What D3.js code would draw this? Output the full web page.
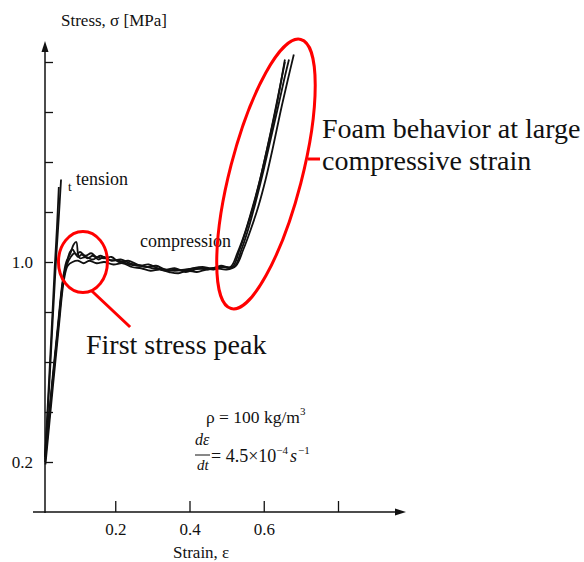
<!DOCTYPE html>
<html>
<head>
<meta charset="utf-8">
<script src="https://cdn.jsdelivr.net/npm/d3@7"></script>
<style>
  body { margin: 0; background: #fff; }
  text { font-family: "Liberation Serif", "Times New Roman", "DejaVu Serif", serif; fill: #111; }
</style>
</head>
<body>
<script>
// ticks
var yTicks = [0.2, 0.4, 0.6, 0.8, 1.0, 1.2, 1.4, 1.6, 1.8];
var yLabeled = [0.2, 1.0];
var xTicks = [0.2, 0.4, 0.6, 0.8];
var xLabeled = [0.2, 0.4, 0.6];

// tension curves [strain, stress]
var tension1 = [[0.011, 0.22], [0.022, 0.5], [0.032, 0.78], [0.041, 1.02], [0.048, 1.18], [0.054, 1.33]];
var tension2 = [[0.011, 0.22], [0.02, 0.48], [0.029, 0.74], [0.037, 0.98], [0.043, 1.14], [0.048, 1.30]];

// compression curves
var compA = [[0.011, 0.22], [0.03, 0.52], [0.045, 0.74], [0.058, 0.92], [0.068, 1.0], [0.078, 1.03],
  [0.088, 1.07], [0.095, 1.08], [0.1, 1.03], [0.105, 1.015], [0.12, 1.02], [0.14, 1.01], [0.16, 1.025],
  [0.18, 1.01], [0.21, 1.005], [0.24, 0.99], [0.27, 0.985], [0.3, 0.975], [0.33, 0.97], [0.36, 0.965],
  [0.39, 0.97], [0.42, 0.975], [0.45, 0.97], [0.48, 0.98], [0.515, 0.98], [0.535, 1.05], [0.555, 1.14],
  [0.575, 1.24], [0.595, 1.36], [0.615, 1.49], [0.635, 1.63], [0.657, 1.81]];
var compB = [[0.011, 0.2], [0.03, 0.5], [0.046, 0.74], [0.06, 0.93], [0.07, 0.99], [0.08, 1.02],
  [0.09, 1.035], [0.1, 1.02], [0.11, 1.03], [0.125, 1.015], [0.14, 1.025], [0.155, 1.01], [0.17, 1.02],
  [0.19, 1.005], [0.215, 1.01], [0.24, 0.995], [0.265, 0.985], [0.29, 0.99], [0.315, 0.975], [0.34, 0.965],
  [0.365, 0.97], [0.39, 0.96], [0.415, 0.97], [0.44, 0.975], [0.465, 0.97], [0.49, 0.98], [0.52, 0.98],
  [0.54, 1.05], [0.56, 1.14], [0.58, 1.25], [0.6, 1.37], [0.62, 1.5], [0.64, 1.63], [0.655, 1.73], [0.668, 1.81]];
var compC = [[0.012, 0.19], [0.032, 0.5], [0.048, 0.74], [0.062, 0.93], [0.072, 0.985], [0.085, 1.0],
  [0.1, 1.005], [0.115, 0.995], [0.13, 1.005], [0.15, 0.995], [0.17, 1.0], [0.195, 0.99], [0.22, 0.995],
  [0.245, 0.98], [0.27, 0.975], [0.295, 0.965], [0.32, 0.97], [0.345, 0.96], [0.37, 0.955], [0.395, 0.965],
  [0.42, 0.96], [0.445, 0.97], [0.47, 0.975], [0.5, 0.97], [0.525, 0.985], [0.545, 1.05], [0.565, 1.13],
  [0.585, 1.22], [0.605, 1.33], [0.625, 1.46], [0.645, 1.6], [0.665, 1.73], [0.681, 1.83]];
var compD = [[0.011, 0.21], [0.031, 0.52], [0.047, 0.75], [0.061, 0.94], [0.07, 1.0], [0.078, 1.04],
  [0.085, 1.05], [0.095, 1.03], [0.105, 1.04], [0.12, 1.025], [0.135, 1.035], [0.15, 1.02], [0.17, 1.015],
  [0.19, 1.02], [0.21, 1.0], [0.235, 1.005], [0.26, 0.99], [0.285, 0.98], [0.31, 0.985], [0.335, 0.97],
  [0.36, 0.975], [0.385, 0.965], [0.41, 0.975], [0.435, 0.98], [0.46, 0.975], [0.485, 0.985], [0.51, 0.98],
  [0.53, 1.04], [0.55, 1.12], [0.57, 1.22], [0.59, 1.33], [0.61, 1.46], [0.63, 1.6], [0.645, 1.71], [0.657, 1.8]];

var w = 584;
var h = 562;

var svg = d3.select("body")
  .append("svg")
  .attr("width", w)
  .attr("height", h);

var x = d3.scaleLinear().domain([0, 0.8]).range([41, 338]);
var y = d3.scaleLinear().domain([0, 1.8]).range([512, 62]);

// axes (ticks only, domain drawn by hand with arrows)
var yAxis = d3.axisLeft(y)
  .tickValues(yTicks)
  .tickSizeInner(-8)
  .tickSizeOuter(0)
  .tickPadding(12)
  .tickFormat((d) => yLabeled.indexOf(d) >= 0 ? d3.format(".1f")(d) : "");

var xAxis = d3.axisBottom(x)
  .tickValues(xTicks)
  .tickSizeInner(-11)
  .tickSizeOuter(0)
  .tickPadding(11)
  .tickFormat((d) => xLabeled.indexOf(d) >= 0 ? d3.format(".1f")(d) : "");

var gy = svg.append("g")
  .attr("transform", "translate(45,0)")
  .call(yAxis);
var gx = svg.append("g")
  .attr("transform", "translate(0," + y(0) + ")")
  .call(xAxis);

[gx, gy].forEach((g) => {
  g.attr("font-family", null);
  g.select(".domain").remove();
  g.selectAll("line").attr("stroke", "#111").attr("stroke-width", 1.3);
  g.selectAll("text")
    .attr("font-size", "17px")
    .attr("fill", "#111");
});

// axis lines with arrows
svg.append("line")
  .attr("x1", 45).attr("y1", y(0) + 1)
  .attr("x2", 45).attr("y2", 50)
  .attr("stroke", "#111").attr("stroke-width", 1.5);
svg.append("path")
  .attr("d", "M45,41 L41.5,52 L48.5,52 Z")
  .attr("fill", "#111");
svg.append("line")
  .attr("x1", 33).attr("y1", y(0))
  .attr("x2", 397).attr("y2", y(0))
  .attr("stroke", "#111").attr("stroke-width", 1.5);
svg.append("path")
  .attr("d", "M406," + y(0) + " L395," + (y(0) - 3.5) + " L395," + (y(0) + 3.5) + " Z")
  .attr("fill", "#111");

// curves
var line = d3.line()
  .x((d) => x(d[0]))
  .y((d) => y(d[1]))
  .curve(d3.curveCatmullRom.alpha(0.5));

svg.selectAll(".curve")
  .data([tension1, tension2, compA, compB, compC, compD])
  .enter()
  .append("path")
  .attr("class", "curve")
  .attr("d", line)
  .attr("fill", "none")
  .attr("stroke", "#111")
  .attr("stroke-width", 1.8);

// labels
svg.append("text").attr("x", 61).attr("y", 26).attr("font-size", "17px").text("Stress, σ [MPa]");
svg.append("text").attr("x", 173).attr("y", 558).attr("font-size", "17px").text("Strain, ε");
svg.append("text").attr("x", 76).attr("y", 185).attr("font-size", "18px").text("tension");
svg.append("text").attr("x", 68).attr("y", 191).attr("font-size", "13px").text("t");
svg.append("text").attr("x", 140).attr("y", 247).attr("font-size", "18px").text("compression");

var rho = svg.append("text").attr("x", 206).attr("y", 423).attr("font-size", "17.5px");
rho.append("tspan").text("ρ = 100 kg/m");
rho.append("tspan").attr("font-size", "11px").attr("dy", -8).text("3");

svg.append("text").attr("x", 195).attr("y", 445).attr("font-size", "16px")
  .attr("font-style", "italic").text("dε");
svg.append("line")
  .attr("x1", 195).attr("x2", 210).attr("y1", 455).attr("y2", 455)
  .attr("stroke", "#111").attr("stroke-width", 1);
svg.append("text").attr("x", 197).attr("y", 470).attr("font-size", "15px")
  .attr("font-style", "italic").text("dt");
var rate = svg.append("text").attr("x", 211).attr("y", 462).attr("font-size", "18px");
rate.append("tspan").text("= 4.5×10");
rate.append("tspan").attr("font-size", "11px").attr("dy", -8).text("−4");
rate.append("tspan").attr("font-style", "italic").attr("dy", 8).attr("dx", 2).text("s");
rate.append("tspan").attr("font-size", "11px").attr("dy", -8).attr("dx", 1).text("−1");

// red annotations
svg.append("ellipse")
  .attr("cx", x(0.113)).attr("cy", y(1.0))
  .attr("rx", 24.5).attr("ry", 30.5)
  .attr("fill", "none").attr("stroke", "#f00").attr("stroke-width", 3);
svg.append("line")
  .attr("x1", x(0.137)).attr("y1", y(0.884))
  .attr("x2", x(0.24)).attr("y2", y(0.74))
  .attr("stroke", "#f00").attr("stroke-width", 3);
svg.append("text").attr("x", 86).attr("y", 354).attr("font-size", "28px").text("First stress peak");

svg.append("ellipse")
  .attr("cx", 0).attr("cy", 0)
  .attr("rx", 36).attr("ry", 139)
  .attr("transform", "translate(" + x(0.606) + "," + y(1.352) + ") rotate(14.5)")
  .attr("fill", "none").attr("stroke", "#f00").attr("stroke-width", 3);
svg.append("line")
  .attr("x1", 308).attr("y1", 159)
  .attr("x2", 320).attr("y2", 159)
  .attr("stroke", "#f00").attr("stroke-width", 3);
svg.append("text").attr("x", 322).attr("y", 138).attr("font-size", "28px").text("Foam behavior at large");
svg.append("text").attr("x", 322).attr("y", 170).attr("font-size", "28px").text("compressive strain");
</script>
</body>
</html>
